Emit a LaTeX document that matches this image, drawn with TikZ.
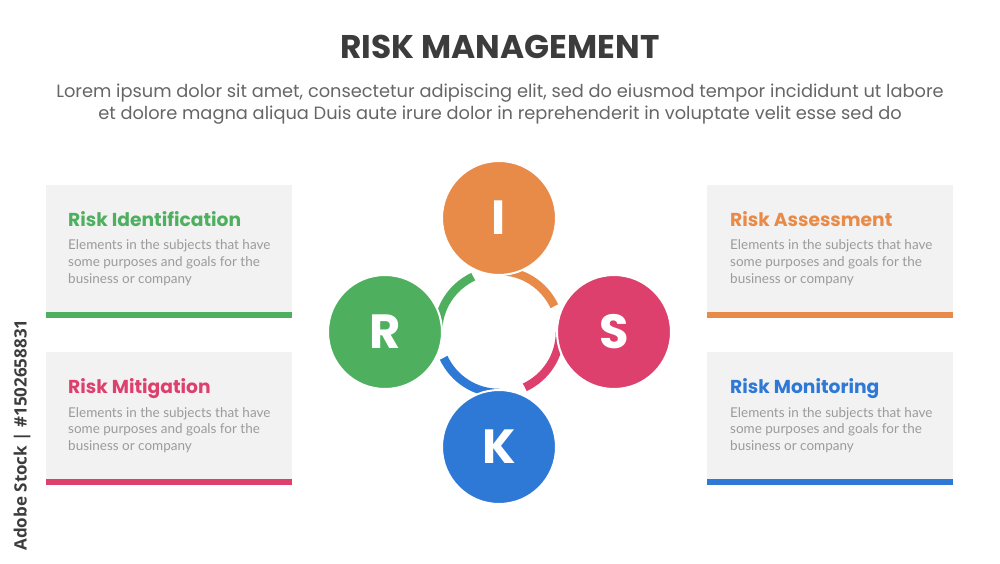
\documentclass[tikz,border=0pt]{standalone}
\usepackage{fontspec}
\setmainfont{Poppins}
\newfontfamily\latofont{Lato}
\newfontfamily\markfont{Open Sans}
\usetikzlibrary{positioning}

\definecolor{riskgreen}{HTML}{4EB05F}
\definecolor{riskorange}{HTML}{E88A48}
\definecolor{riskpink}{HTML}{DE406E}
\definecolor{riskblue}{HTML}{2E78D6}
\definecolor{boxgray}{HTML}{F2F2F2}
\definecolor{titlegray}{HTML}{3C3C3C}
\definecolor{leadgray}{HTML}{666666}
\definecolor{textgray}{HTML}{9B9B9B}

\begin{document}
\begin{tikzpicture}[x=1pt, y=1pt,
    bubble/.style={circle, minimum size=114pt, inner sep=0pt, draw=white, line width=2pt,
      text=white, font=\bfseries\fontsize{48}{48}\selectfont},
    ring/.style={line width=8.5pt},
    head/.style={anchor=base west, inner sep=0pt, font=\bfseries\fontsize{18.7}{22}\selectfont},
    body/.style={anchor=base west, inner sep=0pt, align=left, text=textgray,
      font=\latofont\fontsize{13.5}{16.7}\selectfont}]
  \useasboundingbox (0,0) rectangle (1000,563);
  \fill[white] (0,0) rectangle (1000,563);

  % title and lead text
  \node[anchor=base, inner sep=0pt, text=titlegray, font=\bfseries\fontsize{32.8}{33}\selectfont]
    (title) at (500,504) {RISK MANAGEMENT};
  \node[anchor=base, inner sep=0pt, align=center, text=leadgray, font=\fontsize{17.8}{22.5}\selectfont]
    (lead) at (500,443) {Lorem ipsum dolor sit amet, consectetur adipiscing elit, sed do eiusmod tempor incididunt ut labore\\
    et dolore magna aliqua Duis aute irure dolor in reprehenderit in voluptate velit esse sed do};

  % panels
  \fill[boxgray] (46,245) rectangle (292,378);
  \fill[riskgreen] (46,245) rectangle (292,251);
  \fill[boxgray] (46,78) rectangle (292,211);
  \fill[riskpink] (46,78) rectangle (292,84);
  \fill[boxgray] (707,245) rectangle (953,378);
  \fill[riskorange] (707,245) rectangle (953,251);
  \fill[boxgray] (707,78) rectangle (953,211);
  \fill[riskblue] (707,78) rectangle (953,84);

  \node[head, text=riskgreen] (idhead) at (68,337) {Risk Identification};
  \node[body] (idtext) at ([yshift=-57.4pt]idhead.base west)
    {Elements in the subjects that have\\some purposes and goals for the\\business or company};
  \node[head, text=riskpink] (mihead) at (68,170) {Risk Mitigation};
  \node[body] (mitext) at ([yshift=-57.4pt]mihead.base west)
    {Elements in the subjects that have\\some purposes and goals for the\\business or company};
  \node[head, text=riskorange] (ashead) at (730,337) {Risk Assessment};
  \node[body] (astext) at ([yshift=-57.4pt]ashead.base west)
    {Elements in the subjects that have\\some purposes and goals for the\\business or company};
  \node[head, text=riskblue] (mohead) at (730,170) {Risk Monitoring};
  \node[body] (motext) at ([yshift=-57.4pt]mohead.base west)
    {Elements in the subjects that have\\some purposes and goals for the\\business or company};

  % ring pieces round the centre
  \coordinate (ctr) at (499,231);
  \draw[ring, riskorange] ([shift={(90:61pt)}]ctr) arc[start angle=90, end angle=25, radius=61pt];
  \draw[ring, riskpink] ([shift={(0:61pt)}]ctr) arc[start angle=0, end angle=-65, radius=61pt];
  \draw[ring, riskblue] ([shift={(-90:61pt)}]ctr) arc[start angle=-90, end angle=-155, radius=61pt];
  \draw[ring, riskgreen] ([shift={(180:61pt)}]ctr) arc[start angle=180, end angle=115, radius=61pt];

  % the four letters
  \node[bubble, fill=riskorange] (I) at (499,345) {I};
  \node[bubble, fill=riskgreen] (R) at (385,231) {R};
  \node[bubble, fill=riskpink] (S) at (614,231) {S};
  \node[bubble, fill=riskblue] (K) at (499,116) {K};

  \node[rotate=90, inner sep=0pt, text=titlegray, font=\markfont\bfseries\fontsize{17}{17}\selectfont]
    (stockmark) at (22,128) {Adobe Stock | \#1502658831};
\end{tikzpicture}
\end{document}
